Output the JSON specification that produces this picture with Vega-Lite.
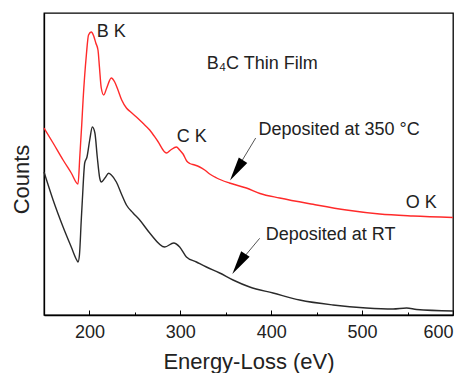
{
  "$schema": "https://vega.github.io/schema/vega-lite/v6.json",
  "width": 409,
  "height": 302,
  "autosize": "none",
  "padding": {"left": 44, "top": 13, "right": 15, "bottom": 58},
  "background": "white",
  "config": {
    "view": {"stroke": "black", "strokeWidth": 1.3},
    "font": "Liberation Sans"
  },
  "datasets": {
    "spectra": [
      {"eV": 150, "counts": 187, "series": "350C"},
      {"eV": 160, "counts": 172, "series": "350C"},
      {"eV": 171, "counts": 155, "series": "350C"},
      {"eV": 180, "counts": 142, "series": "350C"},
      {"eV": 187.4, "counts": 131, "series": "350C"},
      {"eV": 189.5, "counts": 160, "series": "350C"},
      {"eV": 191.5, "counts": 190, "series": "350C"},
      {"eV": 193, "counts": 215, "series": "350C"},
      {"eV": 196.6, "counts": 260, "series": "350C"},
      {"eV": 199, "counts": 280, "series": "350C"},
      {"eV": 202, "counts": 283, "series": "350C"},
      {"eV": 204.7, "counts": 279, "series": "350C"},
      {"eV": 207, "counts": 272, "series": "350C"},
      {"eV": 209.4, "counts": 265, "series": "350C"},
      {"eV": 211, "counts": 248, "series": "350C"},
      {"eV": 213, "counts": 227, "series": "350C"},
      {"eV": 215.7, "counts": 220, "series": "350C"},
      {"eV": 219, "counts": 227, "series": "350C"},
      {"eV": 224, "counts": 237, "series": "350C"},
      {"eV": 227.8, "counts": 233, "series": "350C"},
      {"eV": 231.4, "counts": 225, "series": "350C"},
      {"eV": 235.5, "counts": 215, "series": "350C"},
      {"eV": 240.7, "counts": 207, "series": "350C"},
      {"eV": 245.4, "counts": 203, "series": "350C"},
      {"eV": 251.7, "counts": 198, "series": "350C"},
      {"eV": 258.6, "counts": 192, "series": "350C"},
      {"eV": 266.3, "counts": 185, "series": "350C"},
      {"eV": 275, "counts": 174, "series": "350C"},
      {"eV": 284.7, "counts": 162, "series": "350C"},
      {"eV": 289.4, "counts": 165, "series": "350C"},
      {"eV": 295.7, "counts": 168, "series": "350C"},
      {"eV": 299.3, "counts": 165, "series": "350C"},
      {"eV": 303, "counts": 161, "series": "350C"},
      {"eV": 307, "counts": 154, "series": "350C"},
      {"eV": 310.3, "counts": 151.5, "series": "350C"},
      {"eV": 315.8, "counts": 150, "series": "350C"},
      {"eV": 321.3, "counts": 148, "series": "350C"},
      {"eV": 326.8, "counts": 145, "series": "350C"},
      {"eV": 332.3, "counts": 141, "series": "350C"},
      {"eV": 340, "counts": 137, "series": "350C"},
      {"eV": 354, "counts": 132, "series": "350C"},
      {"eV": 372.7, "counts": 127, "series": "350C"},
      {"eV": 387.6, "counts": 121.5, "series": "350C"},
      {"eV": 409.3, "counts": 117, "series": "350C"},
      {"eV": 446, "counts": 110.7, "series": "350C"},
      {"eV": 482.7, "counts": 105, "series": "350C"},
      {"eV": 519.3, "counts": 101, "series": "350C"},
      {"eV": 556, "counts": 99, "series": "350C"},
      {"eV": 600, "counts": 97.5, "series": "350C"},
      {"eV": 150, "counts": 143, "series": "RT"},
      {"eV": 160, "counts": 115, "series": "RT"},
      {"eV": 171, "counts": 88, "series": "RT"},
      {"eV": 180, "counts": 68, "series": "RT"},
      {"eV": 186, "counts": 55, "series": "RT"},
      {"eV": 187.4, "counts": 53, "series": "RT"},
      {"eV": 189, "counts": 60, "series": "RT"},
      {"eV": 191, "counts": 95, "series": "RT"},
      {"eV": 192.2, "counts": 115, "series": "RT"},
      {"eV": 194.8, "counts": 152, "series": "RT"},
      {"eV": 197.3, "counts": 158, "series": "RT"},
      {"eV": 200.3, "counts": 175, "series": "RT"},
      {"eV": 203.2, "counts": 188, "series": "RT"},
      {"eV": 206, "counts": 182, "series": "RT"},
      {"eV": 208.6, "counts": 158, "series": "RT"},
      {"eV": 211.3, "counts": 137, "series": "RT"},
      {"eV": 213.1, "counts": 133, "series": "RT"},
      {"eV": 217, "counts": 137, "series": "RT"},
      {"eV": 221.2, "counts": 141.7, "series": "RT"},
      {"eV": 224.1, "counts": 140, "series": "RT"},
      {"eV": 229.6, "counts": 133, "series": "RT"},
      {"eV": 235.2, "counts": 121, "series": "RT"},
      {"eV": 240.7, "counts": 110, "series": "RT"},
      {"eV": 248, "counts": 102, "series": "RT"},
      {"eV": 255.3, "counts": 95, "series": "RT"},
      {"eV": 266.3, "counts": 82, "series": "RT"},
      {"eV": 282.8, "counts": 68, "series": "RT"},
      {"eV": 292.7, "counts": 72, "series": "RT"},
      {"eV": 299.3, "counts": 68, "series": "RT"},
      {"eV": 306.7, "counts": 58, "series": "RT"},
      {"eV": 317.7, "counts": 53, "series": "RT"},
      {"eV": 328.7, "counts": 48, "series": "RT"},
      {"eV": 343.3, "counts": 42, "series": "RT"},
      {"eV": 358, "counts": 35, "series": "RT"},
      {"eV": 376.3, "counts": 28, "series": "RT"},
      {"eV": 402, "counts": 22, "series": "RT"},
      {"eV": 431.3, "counts": 15, "series": "RT"},
      {"eV": 468, "counts": 10, "series": "RT"},
      {"eV": 504.7, "counts": 7, "series": "RT"},
      {"eV": 534, "counts": 6, "series": "RT"},
      {"eV": 549, "counts": 7, "series": "RT"},
      {"eV": 560, "counts": 5.5, "series": "RT"},
      {"eV": 600, "counts": 4, "series": "RT"}
    ],
    "labels": [
      {"eV": 208, "counts": 283, "label": "B K"},
      {"eV": 329, "counts": 251, "label": "B₄C Thin Film"},
      {"eV": 296, "counts": 178, "label": "C K"},
      {"eV": 386, "counts": 185.5, "label": "Deposited at 350 °C"},
      {"eV": 548, "counts": 112.5, "label": "O K"},
      {"eV": 394, "counts": 80, "label": "Deposited at RT"}
    ],
    "arrows": [
      {"eV": 382.9, "counts": 177, "eV2": 363, "counts2": 147, "headEV": 361.8, "headCounts": 144.6},
      {"eV": 387.3, "counts": 76.7, "eV2": 366, "counts2": 53.5, "headEV": 364.4, "headCounts": 51}
    ]
  },
  "layer": [
    {
      "data": {"name": "spectra"},
      "mark": {"type": "line", "strokeWidth": 1.4, "interpolate": "monotone"},
      "encoding": {
        "x": {
          "field": "eV", "type": "quantitative",
          "scale": {"domain": [150, 600], "nice": false, "zero": false},
          "axis": {
            "title": "Energy-Loss (eV)",
            "values": [200, 250, 300, 350, 400, 450, 500, 550, 600],
            "labelExpr": "datum.value % 100 === 0 ? datum.label : ''",
            "tickSize": {"condition": {"test": "datum.value % 100 === 0", "value": -5}, "value": -3},
            "tickColor": "black",
            "tickWidth": 1,
            "domainColor": "black",
            "domainWidth": 1.3,
            "grid": false,
            "labelFontSize": 18,
            "labelColor": "#222",
            "labelPadding": 13,
            "labelBaseline": "top",
            "titleFontSize": 22,
            "titleFontWeight": "normal",
            "titleColor": "#222",
            "titleBaseline": "alphabetic",
            "titleY": 53
          }
        },
        "y": {
          "field": "counts", "type": "quantitative",
          "scale": {"domain": [0, 302], "nice": false, "zero": false},
          "axis": {
            "title": "Counts",
            "labels": false,
            "ticks": false,
            "grid": false,
            "domainColor": "black",
            "domainWidth": 1.3,
            "titleFontSize": 22,
            "titleFontWeight": "normal",
            "titleColor": "#222",
            "titleBaseline": "alphabetic",
            "titleAngle": -90,
            "titleX": -16,
            "titleY": 166
          }
        },
        "color": {
          "field": "series", "type": "nominal",
          "scale": {"domain": ["350C", "RT"], "range": ["#ff2a2a", "#2a2a2a"]},
          "legend": null
        }
      }
    },
    {
      "data": {"name": "labels"},
      "mark": {"type": "text", "align": "left", "baseline": "middle", "fontSize": 18, "color": "#222"},
      "encoding": {
        "x": {"field": "eV", "type": "quantitative"},
        "y": {"field": "counts", "type": "quantitative"},
        "text": {"field": "label"}
      }
    },
    {
      "data": {"name": "arrows"},
      "mark": {"type": "rule", "color": "#555", "strokeWidth": 1},
      "encoding": {
        "x": {"field": "eV", "type": "quantitative"},
        "y": {"field": "counts", "type": "quantitative"},
        "x2": {"field": "eV2"},
        "y2": {"field": "counts2"}
      }
    },
    {
      "data": {"name": "arrows"},
      "mark": {"type": "point", "shape": "M0,-1L0.42,1L-0.42,1Z", "filled": true, "color": "black", "opacity": 1, "size": 576, "angle": 213},
      "encoding": {
        "x": {"field": "headEV", "type": "quantitative"},
        "y": {"field": "headCounts", "type": "quantitative"}
      }
    }
  ]
}
